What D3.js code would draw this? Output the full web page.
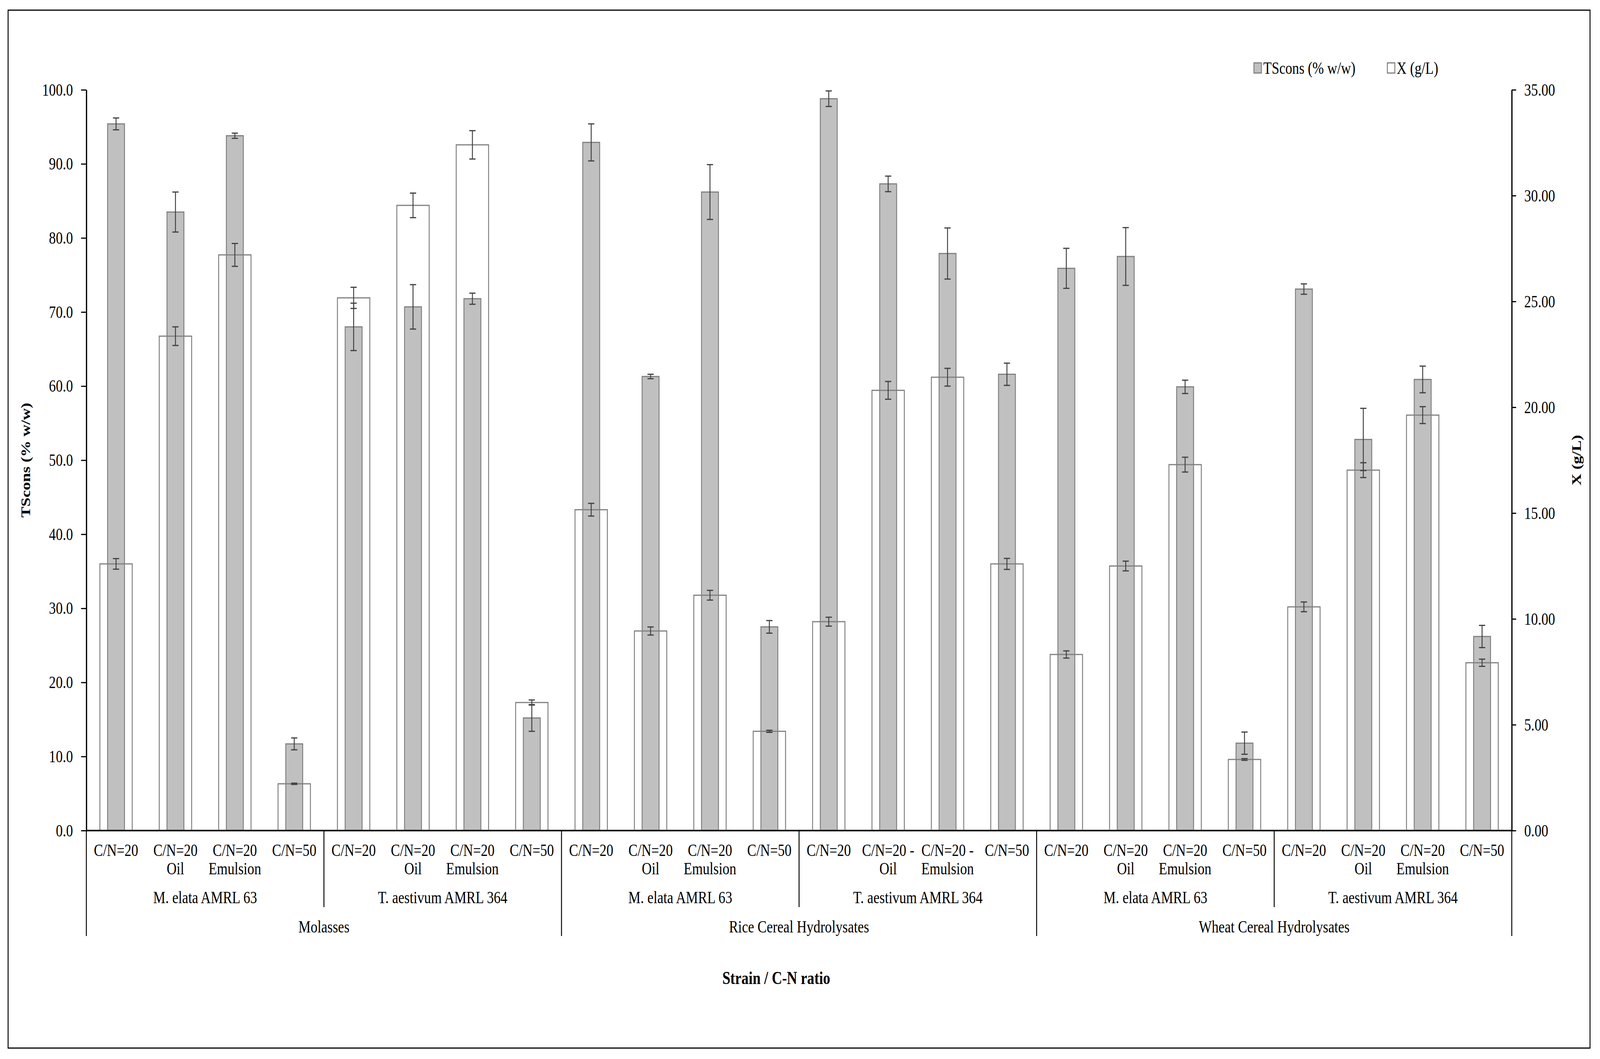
<!DOCTYPE html>
<html>
<head>
<meta charset="utf-8">
<script src="https://cdn.jsdelivr.net/npm/d3@7"></script>
<style>
  html, body { margin: 0; padding: 0; background: #fff; overflow: hidden; }
  #chart { display: block; width: 100vw; height: 100vh; }
  svg text { font-family: "Liberation Serif", "Times New Roman", serif; fill: #000; }
</style>
</head>
<body>
<svg id="chart" viewBox="0 0 5132 2712" preserveAspectRatio="none"></svg>
<script>
// categories (bottom to top levels)
const substrates = ["Molasses", "Rice Cereal Hydrolysates", "Wheat Cereal Hydrolysates"]
const strains = ["M. elata AMRL 63", "T. aestivum AMRL 364"]
const treatments = [["C/N=20"], ["C/N=20", "Oil"], ["C/N=20", "Emulsion"], ["C/N=50"]]
// rice / T. aestivum has a dash after the label in the original
const riceTaTreatments = [["C/N=20"], ["C/N=20 -", "Oil"], ["C/N=20 -", "Emulsion"], ["C/N=50"]]

// TScons (% w/w), left axis
const tscons = [95.4, 83.5, 93.8, 11.7, 68.0, 70.7, 71.8, 15.2,
                92.9, 61.3, 86.2, 27.5, 98.8, 87.3, 77.9, 61.6,
                75.9, 77.5, 59.9, 11.8, 73.1, 52.8, 60.9, 26.2]
const tsconsErr = [0.8, 2.7, 0.35, 0.8, 3.2, 3.0, 0.75, 1.8,
                   2.5, 0.3, 3.7, 0.85, 1.05, 1.05, 3.45, 1.5,
                   2.7, 3.9, 0.9, 1.5, 0.7, 4.2, 1.8, 1.5]
// X (g/L), right axis
const biomass = [12.60, 23.36, 27.20, 2.21, 25.17, 29.54, 32.40, 6.05,
                 15.16, 9.43, 11.12, 4.69, 9.87, 20.80, 21.42, 12.60,
                 8.32, 12.50, 17.29, 3.36, 10.57, 17.03, 19.63, 7.93]
const biomassErr = [0.25, 0.44, 0.54, 0.03, 0.5, 0.58, 0.67, 0.12,
                    0.3, 0.19, 0.23, 0.05, 0.21, 0.42, 0.42, 0.26,
                    0.17, 0.23, 0.35, 0.04, 0.23, 0.35, 0.4, 0.17]

const leftTicks = d3.range(0, 101, 10)
const rightTicks = d3.range(0, 36, 5)

const svg = d3.select("#chart")
const plotLeft = 277, plotRight = 4849, plotTop = 230, plotBottom = 2127

// build flat list of categories
const cats = []
substrates.forEach((s, si) => {
  strains.forEach((st, sti) => {
    const tr = (si == 1 && sti == 1) ? riceTaTreatments : treatments
    tr.forEach((t, ti) => {
      const i = cats.length
      cats.push({i: i, substrate: s, strain: st, label: t,
                 ts: tscons[i], tsErr: tsconsErr[i], x: biomass[i], xErr: biomassErr[i]})
    })
  })
})

const x = d3.scaleBand().domain(cats.map(d => d.i)).range([plotLeft, plotRight])
const yL = d3.scaleLinear().domain([0, 100]).range([plotBottom, plotTop])
const yR = d3.scaleLinear().domain([0, 35]).range([plotBottom, plotTop])
const bw = x.bandwidth()
const grayW = bw * 0.285, whiteW = bw * 0.545

// background + outer border
svg.append("rect").attr("x", 0).attr("y", 0).attr("width", 5132).attr("height", 2712).attr("fill", "#fff")
svg.append("rect").attr("x", 26).attr("y", 26).attr("width", 5074).attr("height", 2658)
  .attr("fill", "none").attr("stroke", "#000").attr("stroke-width", 3)

// gray bars (TScons)
svg.append("g").selectAll("rect").data(cats).join("rect")
  .attr("x", d => x(d.i) + bw / 2 - grayW / 2)
  .attr("y", d => yL(d.ts))
  .attr("width", grayW)
  .attr("height", d => plotBottom - yL(d.ts))
  .attr("fill", "#c0c0c0").attr("stroke", "#808080").attr("stroke-width", 3)

// white bars (X), outline only so the gray bar shows through
svg.append("g").selectAll("rect").data(cats).join("rect")
  .attr("x", d => x(d.i) + bw / 2 - whiteW / 2)
  .attr("y", d => yR(d.x))
  .attr("width", whiteW)
  .attr("height", d => plotBottom - yR(d.x))
  .attr("fill", "none").attr("stroke", "#808080").attr("stroke-width", 3)

// error bars
function errorBars(data, yScale, val, err) {
  const g = svg.append("g").attr("stroke", "#404040").attr("stroke-width", 3)
  const cap = 10
  data.forEach(d => {
    const cx = x(d.i) + bw / 2
    const y1 = yScale(val(d) + err(d)), y2 = yScale(val(d) - err(d))
    g.append("line").attr("x1", cx).attr("x2", cx).attr("y1", y1).attr("y2", y2)
    g.append("line").attr("x1", cx - cap).attr("x2", cx + cap).attr("y1", y1).attr("y2", y1)
    g.append("line").attr("x1", cx - cap).attr("x2", cx + cap).attr("y1", y2).attr("y2", y2)
  })
}
errorBars(cats, yL, d => d.ts, d => d.tsErr)
errorBars(cats, yR, d => d.x, d => d.xErr)

// axes
const axL = svg.append("g").attr("transform", `translate(${plotLeft},0)`)
  .call(d3.axisLeft(yL).tickValues(leftTicks).tickFormat(d3.format(".1f")).tickSize(17).tickSizeOuter(0).tickPadding(26))
const axR = svg.append("g").attr("transform", `translate(${plotRight},0)`)
  .call(d3.axisRight(yR).tickValues(rightTicks).tickFormat(d3.format(".2f")).tickSize(14).tickSizeOuter(0).tickPadding(26))
;[axL, axR].forEach(a => {
  a.select(".domain").attr("stroke", "#000").attr("stroke-width", 4)
  a.selectAll(".tick line").attr("stroke", "#000").attr("stroke-width", 3)
  a.selectAll(".tick text").attr("font-size", 44).attr("font-family", "Liberation Serif")
})

// baseline
svg.append("line").attr("x1", plotLeft).attr("x2", plotRight).attr("y1", plotBottom).attr("y2", plotBottom)
  .attr("stroke", "#000").attr("stroke-width", 4)

// category labels
const lab = svg.append("g").attr("font-size", 44).attr("text-anchor", "middle")
cats.forEach(d => {
  d.label.forEach((l, li) => {
    lab.append("text").attr("x", x(d.i) + bw / 2).attr("y", 2192 + li * 47).text(l)
  })
})
// strain labels and separators
const sep = svg.append("g").attr("stroke", "#000").attr("stroke-width", 3)
for (let k = 0; k < 6; k++) {
  const x0 = x(k * 4), x1 = x(k * 4 + 3) + bw
  lab.append("text").attr("x", (x0 + x1) / 2).attr("y", 2313).text(strains[k % 2])
  if (k % 2 == 1) {
    sep.append("line").attr("x1", x0).attr("x2", x0).attr("y1", plotBottom).attr("y2", 2323)
  }
}
for (let k = 0; k < 3; k++) {
  const x0 = x(k * 8), x1 = x(k * 8 + 7) + bw
  lab.append("text").attr("x", (x0 + x1) / 2).attr("y", 2388).text(substrates[k])
  sep.append("line").attr("x1", x0).attr("x2", x0).attr("y1", plotBottom).attr("y2", 2397)
}
sep.append("line").attr("x1", plotRight).attr("x2", plotRight).attr("y1", plotBottom).attr("y2", 2397)

// axis titles
svg.append("text").attr("transform", `translate(97,${(plotTop + plotBottom) / 2}) rotate(-90)`)
  .attr("text-anchor", "middle").attr("font-size", 42).attr("font-weight", "bold").text("TScons (% w/w)")
svg.append("text").attr("transform", `translate(5070,${(plotTop + plotBottom) / 2}) rotate(-90)`)
  .attr("text-anchor", "middle").attr("font-size", 42).attr("font-weight", "bold").text("X (g/L)")
svg.append("text").attr("x", 2490).attr("y", 2520)
  .attr("text-anchor", "middle").attr("font-size", 46).attr("font-weight", "bold").text("Strain / C-N ratio")

// legend
const legend = [{name: "TScons (% w/w)", fill: "#c0c0c0", x: 4022}, {name: "X (g/L)", fill: "#fff", x: 4450}]
const lg = svg.append("g")
legend.forEach(l => {
  lg.append("rect").attr("x", l.x).attr("y", 161).attr("width", 24).attr("height", 26)
    .attr("fill", l.fill).attr("stroke", "#808080").attr("stroke-width", 3)
  lg.append("text").attr("x", l.x + 30).attr("y", 189).attr("font-size", 44).text(l.name)
})
</script>
</body>
</html>
